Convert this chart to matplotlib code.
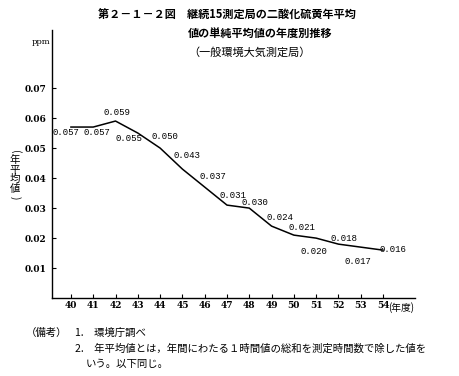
import matplotlib
matplotlib.use("Agg")
import matplotlib.pyplot as plt

# 年度 (昭和) と年平均値 (ppm)
years = [40, 41, 42, 43, 44, 45, 46, 47, 48, 49, 50, 51, 52, 53, 54]
so2_ppm = [0.057, 0.057, 0.059, 0.055, 0.050, 0.043, 0.037, 0.031,
           0.030, 0.024, 0.021, 0.020, 0.018, 0.017, 0.016]
value_labels = ["0.057", "0.057", "0.059", "0.055", "0.050", "0.043", "0.037", "0.031",
                "0.030", "0.024", "0.021", "0.020", "0.018", "0.017", "0.016"]
y_ticks = [0.01, 0.02, 0.03, 0.04, 0.05, 0.06, 0.07]

# ラベル位置のずらし (points)
label_offsets = [(-3.6, -3.8), (2.9, -3.8), (0.7, 5.8), (-6.5, -3.8), (3.6, 8.6),
                 (3.6, 10), (5.8, 7.9), (4.3, 7.2), (4.3, 4.0), (5.8, 6.5),
                 (5.8, 5.8), (-1.4, -9.4), (4.3, 3.8), (-2.2, -10), (7.2, 0.7)]

JP = ["Noto Sans CJK JP", "DejaVu Sans"]
NUM = "DejaVu Serif"

fig = plt.figure(figsize=(4.6, 3.76), dpi=100)
ax = fig.add_axes([0.113, 0.207, 0.789, 0.713])

ax.plot(years, so2_ppm, color="black", linewidth=1.1)
for x, y, lab, off in zip(years, so2_ppm, value_labels, label_offsets):
    ax.annotate(lab, (x, y), xytext=off, textcoords="offset points",
                ha="center", va="center", fontsize=6.5, family="Liberation Mono")

ax.set_xlim(39.15, 55.43)
ax.set_ylim(0, 0.0893)
ax.set_xticks(years)
ax.set_xticklabels([str(y) for y in years], fontsize=6.5, family=NUM, weight="bold")
ax.set_yticks(y_ticks)
ax.set_yticklabels([f"{v:.2f}" for v in y_ticks], fontsize=6.5, family=NUM, weight="bold")
ax.tick_params(direction="in", length=3, width=0.8)
ax.tick_params(axis="x", pad=2)
ax.tick_params(axis="y", pad=4)
for s in ["top", "right"]:
    ax.spines[s].set_visible(False)
for s in ["left", "bottom"]:
    ax.spines[s].set_linewidth(1.0)

fig.text(50 / 460, 1 - 42 / 376, "ppm", ha="right", va="center", fontsize=6, family=NUM)

# 縦書きの軸ラベル
fig.text(15 / 460, 1 - 152 / 376, "(", rotation=-90, ha="center", va="center", fontsize=7.5, family=JP)
for ch, ypx in zip("年平均値", [160, 170, 179, 189]):
    fig.text(15 / 460, 1 - ypx / 376, ch, ha="center", va="center", fontsize=7.5, family=JP)
fig.text(15 / 460, 1 - 198 / 376, ")", rotation=-90, ha="center", va="center", fontsize=7.5, family=JP)

fig.text(388 / 460, 1 - 308 / 376, "(年度)", ha="left", va="center", fontsize=7, family=JP)

# タイトル
fig.text(98 / 460, 1 - 15 / 376, "第２－１－２図　継続15測定局の二酸化硫黄年平均",
         ha="left", va="center", fontsize=8, family=JP, weight="bold")
fig.text(188 / 460, 1 - 33 / 376, "値の単純平均値の年度別推移",
         ha="left", va="center", fontsize=8, family=JP, weight="bold")
fig.text(188 / 460, 1 - 52 / 376, "（一般環境大気測定局）",
         ha="left", va="center", fontsize=8, family=JP)

# 備考
fig.text(26 / 460, 1 - 333 / 376, "（備考）", ha="left", va="center", fontsize=7.5, family=JP)
fig.text(75 / 460, 1 - 333 / 376, "1.　環境庁調べ", ha="left", va="center", fontsize=7.5, family=JP)
fig.text(75 / 460, 1 - 349 / 376, "2.　年平均値とは，年間にわたる１時間値の総和を測定時間数で除した値を",
         ha="left", va="center", fontsize=7.5, family=JP)
fig.text(86 / 460, 1 - 364 / 376, "いう。以下同じ。", ha="left", va="center", fontsize=7.5, family=JP)

fig.savefig("out.png", dpi=100)
